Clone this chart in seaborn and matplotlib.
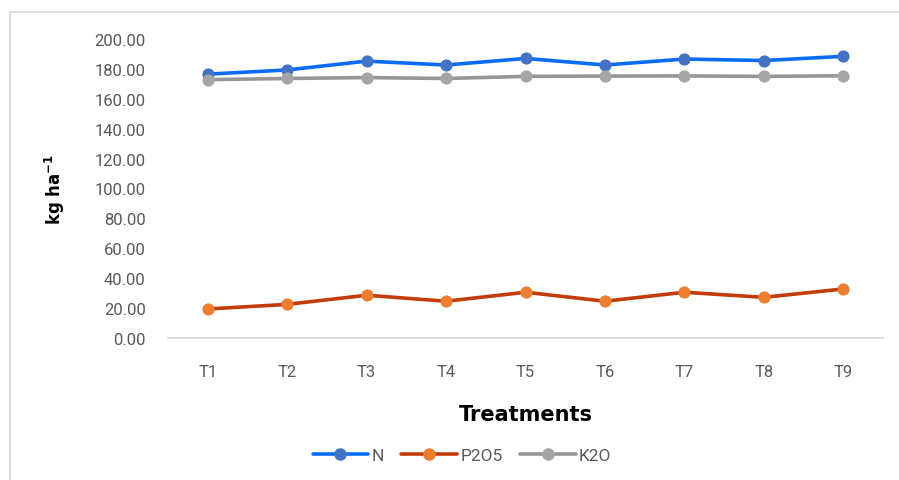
import matplotlib
matplotlib.use("Agg")
import matplotlib.pyplot as plt
import seaborn as sns
import pandas as pd
from matplotlib.lines import Line2D
from matplotlib.patches import Rectangle
from matplotlib import font_manager

treatments = ["T1", "T2", "T3", "T4", "T5", "T6", "T7", "T8", "T9"]
n_vals = [176.5, 179.3, 185.2, 182.6, 187.0, 182.6, 186.6, 185.6, 188.4]
p2o5_vals = [19.4, 22.5, 28.6, 24.6, 30.6, 24.6, 30.6, 27.2, 32.8]
k2o_vals = [172.8, 173.6, 174.2, 173.6, 175.0, 175.2, 175.3, 175.0, 175.4]
series_names = ["N", "P2O5", "K2O"]
yticks = [0, 20, 40, 60, 80, 100, 120, 140, 160, 180, 200]

line_colors = ["#0A6CF5", "#C23B0A", "#969696"]
marker_colors = ["#4472C4", "#ED7D31", "#A5A5A5"]

sns.set_style("white")
avail = {f.name for f in font_manager.fontManager.ttflist}
tick_font = "Liberation Sans Narrow" if "Liberation Sans Narrow" in avail else "Roboto"
plt.rcParams["font.family"] = [tick_font, "DejaVu Sans"]
plt.rcParams["mathtext.default"] = "bf"

df = pd.DataFrame({
    "Treatment": treatments * 3,
    "value": n_vals + p2o5_vals + k2o_vals,
    "series": sum([[s] * len(treatments) for s in series_names], []),
})

fig = plt.figure(figsize=(8.99, 4.81), dpi=100)
fig.patches.append(Rectangle((10 / 899, -0.1), 1.2, 1 - 13 / 481 + 0.1,
                             transform=fig.transFigure, fill=False,
                             edgecolor="#D9D9D9", linewidth=1.2, zorder=0))
ax = fig.add_axes([168 / 899, (481 - 339) / 481, (883 - 168) / 899, 299 / 481])

for name, lc, mc in zip(series_names, line_colors, marker_colors):
    sub = df[df["series"] == name]
    sns.lineplot(data=sub, x="Treatment", y="value", ax=ax, color=lc,
                 linewidth=2.6, marker="o", markersize=8,
                 markerfacecolor=mc, markeredgecolor=mc, sort=False)

ax.set_ylim(0, 200)
ax.set_xlim(-0.5, len(treatments) - 0.5)
ax.set_yticks(yticks)
ax.set_yticklabels([f"{v:.2f}" for v in yticks])
ax.tick_params(axis="both", length=0, labelsize=12, colors="#595959")
ax.tick_params(axis="y", pad=16)
ax.tick_params(axis="x", pad=19)
for s in ["top", "right", "left"]:
    ax.spines[s].set_visible(False)
ax.spines["bottom"].set_color("#D9D9D9")
ax.spines["bottom"].set_linewidth(1.2)
ax.grid(False)

ax.set_xlabel("Treatments", fontsize=15, fontweight="bold", color="black",
              family=["DejaVu Sans"], labelpad=18)
ax.set_ylabel("kg ha$^{-1}$", fontsize=12, fontweight="bold", color="black",
              family=["DejaVu Sans"], labelpad=20)

handles = [Line2D([0], [0], color=lc, linewidth=2.6, marker="o", markersize=8,
                  markerfacecolor=mc, markeredgecolor=mc)
           for lc, mc in zip(line_colors, marker_colors)]
fig.legend(handles, series_names, loc="center", bbox_to_anchor=(462 / 899, 1 - 456 / 481),
           ncol=3, frameon=False, fontsize=12.5, handlelength=3.2, columnspacing=1.0,
           handletextpad=0.2, labelcolor="#595959")

fig.savefig("out.png", dpi=100)
